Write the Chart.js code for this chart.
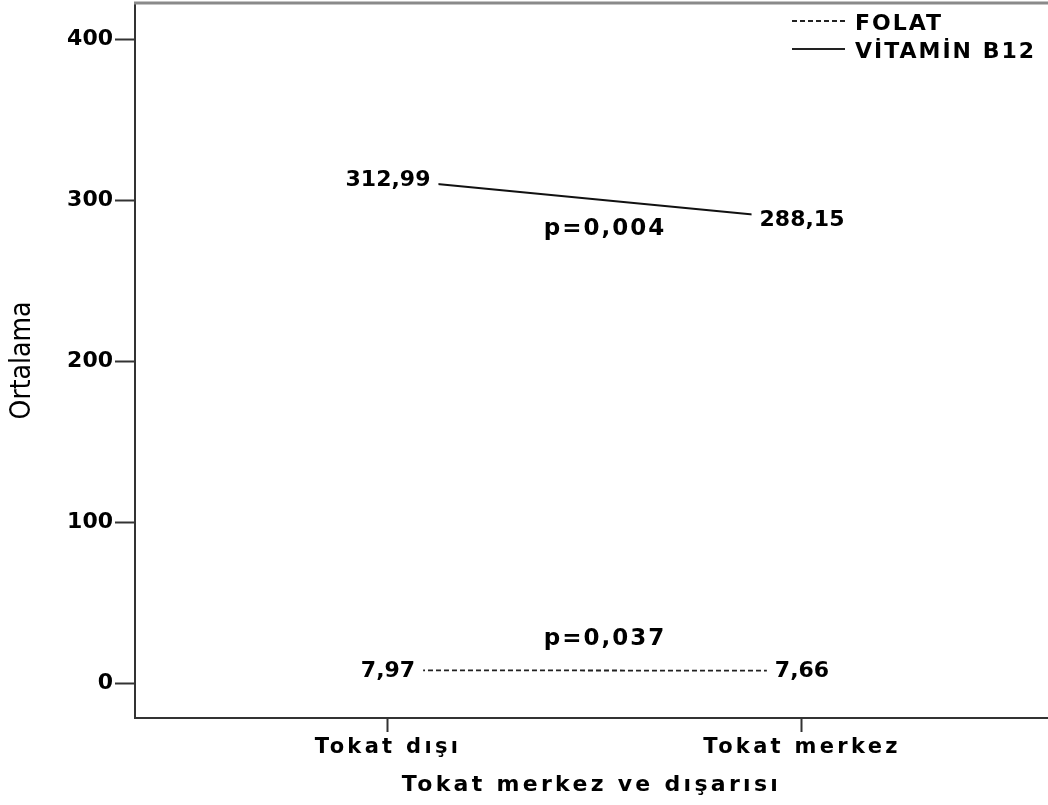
<!DOCTYPE html>
<html lang="tr">
<head>
<meta charset="utf-8">
<title>Tokat merkez ve dışarısı</title>
<script src="https://cdn.jsdelivr.net/npm/chart.js@4/dist/chart.umd.min.js"></script>
<style>
  html, body { margin: 0; padding: 0; background: #fff; overflow: hidden; }
  #wrap { width: 1048px; height: 805px; }
</style>
</head>
<body>
<div id="wrap"><canvas id="chart" width="1048" height="805"></canvas></div>
<script>
// Group means by location
const categories = ['Tokat dışı', 'Tokat merkez'];
const folat = [7.97, 7.66];
const vitaminB12 = [312.99, 288.15];
const seriesNames = ['FOLAT', 'VİTAMİN B12'];
const pValues = ['p=0,037', 'p=0,004'];
const yTicks = [0, 100, 200, 300, 400];

const BOLD = "'DejaVu Sans', 'Liberation Sans', sans-serif";
const fmt = v => v.toFixed(2).replace('.', ',');

// Spaced lettering for the category axis (drawn first), plain for the value axis
const spacing = {
  id: 'spacing',
  beforeDraw(chart) { chart.ctx.letterSpacing = '3.3px'; },
  beforeDatasetsDraw(chart) { chart.ctx.letterSpacing = '0px'; }
};

// Mean labels on each point, with p-value beside each series
const valueLabels = {
  id: 'valueLabels',
  afterDatasetsDraw(chart) {
    const ctx = chart.ctx;
    ctx.save();
    ctx.letterSpacing = '0px';
    ctx.textAlign = 'center';
    ctx.textBaseline = 'middle';
    chart.data.datasets.forEach((ds, di) => {
      const meta = chart.getDatasetMeta(di);
      ctx.font = 'bold 22px ' + BOLD;
      meta.data.forEach((pt, i) => {
        const txt = fmt(ds.data[i].y);
        const w = ctx.measureText(txt).width;
        ctx.fillStyle = '#fff';
        ctx.fillRect(pt.x - w / 2 - 8, pt.y - 12, w + 16, 24);
        ctx.fillStyle = '#000';
        ctx.fillText(txt, pt.x, pt.y + 1);
      });
      // p-value: below the upper series, above the lower one
      const a = meta.data[0], b = meta.data[meta.data.length - 1];
      const mx = (a.x + b.x) / 2 + 10, my = (a.y + b.y) / 2;
      const upper = ds.data[0].y > 100;
      ctx.font = 'bold 23px ' + BOLD;
      ctx.letterSpacing = '2px';
      ctx.fillStyle = '#000';
      ctx.fillText(pValues[di], mx, my + (upper ? 30 : -31));
      ctx.letterSpacing = '0px';
    });
    ctx.restore();
  }
};

// Frame top edge and the line-style legend
const frameAndLegend = {
  id: 'frameAndLegend',
  afterDraw(chart) {
    const ctx = chart.ctx, ca = chart.chartArea;
    ctx.save();
    ctx.strokeStyle = '#8a8a8a';
    ctx.lineWidth = 3;
    ctx.beginPath();
    ctx.moveTo(ca.left - 1, ca.top);
    ctx.lineTo(ca.right, ca.top);
    ctx.stroke();

    const x0 = ca.right - 256, x1 = ca.right - 203, tx = ca.right - 193;
    chart.data.datasets.forEach((ds, i) => {
      const ly = ca.top + 18 + i * 28;
      ctx.strokeStyle = '#222';
      ctx.lineWidth = ds.borderWidth;
      ctx.setLineDash(ds.borderDash || []);
      ctx.beginPath();
      ctx.moveTo(x0, ly);
      ctx.lineTo(x1, ly);
      ctx.stroke();
      ctx.setLineDash([]);
      ctx.font = 'bold 22px ' + BOLD;
      ctx.letterSpacing = '2px';
      ctx.fillStyle = '#000';
      ctx.textAlign = 'left';
      ctx.textBaseline = 'middle';
      ctx.fillText(ds.label, tx, ly + 3);
    });
    ctx.restore();
  }
};

const toPoints = arr => arr.map((v, i) => ({ x: i, y: v }));

new Chart(document.getElementById('chart'), {
  type: 'line',
  data: {
    datasets: [
      {
        label: seriesNames[0],
        data: toPoints(folat),
        borderColor: '#222',
        borderWidth: 1.8,
        borderDash: [5, 3],
        pointRadius: 0,
        tension: 0
      },
      {
        label: seriesNames[1],
        data: toPoints(vitaminB12),
        borderColor: '#111',
        borderWidth: 2,
        pointRadius: 0,
        tension: 0
      }
    ]
  },
  options: {
    responsive: false,
    animation: false,
    devicePixelRatio: 1,
    layout: { padding: { top: 3, right: 0, bottom: 0, left: 0 } },
    plugins: {
      legend: { display: false },
      tooltip: { enabled: false }
    },
    scales: {
      x: {
        type: 'linear',
        min: -0.6111,
        max: 1.5942,
        afterBuildTicks: s => { s.ticks = categories.map((c, i) => ({ value: i })); },
        afterFit: s => { s.height = 87; s.paddingLeft = 0; s.paddingRight = 0; },
        ticks: {
          autoSkip: false,
          maxRotation: 0,
          padding: 3,
          color: '#000',
          font: { family: BOLD, weight: 'bold', size: 21 },
          callback: v => categories[v]
        },
        grid: {
          drawOnChartArea: false,
          drawTicks: true,
          tickLength: 14,
          tickColor: '#333',
          tickWidth: 2
        },
        border: { display: true, color: '#333', width: 2 },
        title: {
          display: true,
          text: 'Tokat merkez ve dışarısı',
          color: '#000',
          font: { family: BOLD, weight: 'bold', size: 22 },
          padding: { top: 0, bottom: 7 }
        }
      },
      y: {
        type: 'linear',
        min: -21.7,
        max: 422.5,
        afterBuildTicks: s => { s.ticks = yTicks.map(v => ({ value: v })); },
        afterFit: s => { s.width = 135; s.paddingTop = 0; s.paddingBottom = 0; },
        ticks: {
          z: 1,
          padding: 2,
          color: '#000',
          font: { family: BOLD, weight: 'bold', size: 22 },
          callback: v => String(v)
        },
        grid: {
          z: 1,
          drawOnChartArea: false,
          drawTicks: true,
          tickLength: 20,
          tickColor: '#333',
          tickWidth: 2
        },
        border: { z: 1, display: true, color: '#333', width: 2 },
        title: {
          display: true,
          text: 'Ortalama',
          color: '#000',
          font: { family: "'Liberation Sans Narrow', 'DejaVu Sans Condensed', 'Liberation Sans', sans-serif", weight: 'normal', size: 28 },
          padding: { top: 6, bottom: 0 }
        }
      }
    }
  },
  plugins: [spacing, valueLabels, frameAndLegend]
});
</script>
</body>
</html>
